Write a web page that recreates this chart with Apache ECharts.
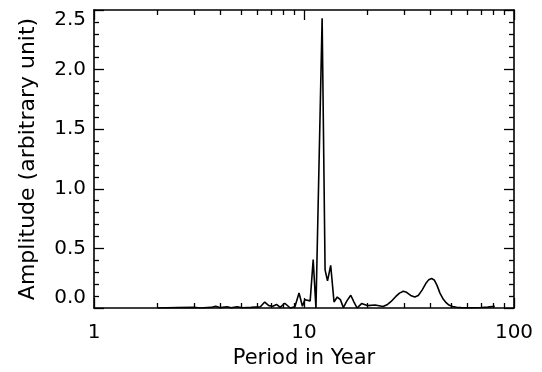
<!DOCTYPE html>
<html>
<head>
<meta charset="utf-8">
<script src="https://cdn.jsdelivr.net/npm/echarts@6/dist/echarts.min.js"></script>
<style>html,body{margin:0;padding:0;background:#fff}#c{width:542px;height:372px}</style>
</head>
<body>
<div id="c"></div>
<script>
const periods = [2.0, 2.5, 3.0, 3.2, 3.6, 3.8, 4.0, 4.3, 4.5, 4.8, 5.1, 5.6, 6.2, 6.5, 6.8, 7.1, 7.4, 7.7, 8.1, 8.6, 9.05, 9.47, 9.83, 10.1, 10.7, 11.06, 11.4, 12.2, 12.6, 12.94, 13.4, 13.9, 14.4, 14.9, 15.4, 16.0, 16.7, 17.3, 17.9, 18.8, 20.0, 21.8, 23.8, 25.0, 26.0, 27.3, 28.5, 29.7, 30.8, 32.2, 33.7, 35.0, 36.5, 38.0, 39.3, 40.5, 41.7, 43.0, 44.4, 46.0, 47.5, 49.0, 51.0, 53.3, 56, 60, 65, 70, 75, 81];
const amplitudes = [0, 0.003, 0.005, 0, 0.005, 0.015, 0.003, 0.01, 0.002, 0.01, 0.002, 0.005, 0.01, 0.05, 0.02, 0.015, 0.03, 0.005, 0.04, 0, 0.01, 0.126, 0.015, 0.07, 0.06, 0.406, 0, 2.43, 0.32, 0.227, 0.358, 0.05, 0.092, 0.07, 0.003, 0.06, 0.107, 0.05, 0, 0.037, 0.02, 0.025, 0.012, 0.03, 0.055, 0.095, 0.125, 0.14, 0.132, 0.105, 0.092, 0.105, 0.15, 0.205, 0.238, 0.247, 0.235, 0.19, 0.125, 0.075, 0.045, 0.025, 0.012, 0.006, 0.003, 0.001, 0.002, 0.004, 0.007, 0.015];
const xMajorTicks = [1, 10, 100];
const xMinorTicks = [2, 3, 4, 5, 6, 7, 8, 9, 20, 30, 40, 50, 60, 70, 80, 90];
const yTickLabels = ['0.0', '0.5', '1.0', '1.5', '2.0', '2.5'];
const xTitle = 'Period in Year';
const yTitle = 'Amplitude (arbitrary unit)';

const FONT = 'DejaVu Sans';
const lineStyle = { color: '#000', width: 1.6 };

function xAxisDef(pos, major, withLabels) {
  return {
    type: 'log', logBase: 10, min: 1, max: 100, position: pos,
    axisLine: { show: major, lineStyle: lineStyle },
    axisTick: { show: true, inside: true, length: major ? 10 : 5, customValues: major ? xMajorTicks : xMinorTicks, lineStyle: { color: '#000', width: 1.3 } },
    axisLabel: withLabels ? { show: true, customValues: xMajorTicks, color: '#000', fontSize: 20, fontFamily: FONT, margin: 15, formatter: v => String(Math.round(v)) } : { show: false },
    splitLine: { show: false },
    name: withLabels ? xTitle : '',
    nameLocation: 'middle', nameGap: 39,
    nameTextStyle: { color: '#000', fontSize: 21, fontFamily: FONT }
  };
}
function yAxisDef(pos, withLabels) {
  return {
    type: 'value', min: 0, max: 2.5, interval: 0.5, position: pos,
    axisLine: { show: true, lineStyle: lineStyle },
    axisTick: { show: true, inside: true, length: 10, lineStyle: { color: '#000', width: 1.3 } },
    minorTick: { show: true, splitNumber: 5, length: 5, lineStyle: { color: '#000', width: 1.3 } },
    axisLabel: withLabels ? { show: true, color: '#000', fontSize: 20, fontFamily: FONT, margin: 8,
      formatter: v => yTickLabels[Math.round(v / 0.5)],
      verticalAlignMinLabel: 'bottom', verticalAlignMaxLabel: 'top' } : { show: false },
    splitLine: { show: false }, minorSplitLine: { show: false },
    name: withLabels ? yTitle : '',
    nameLocation: 'middle', nameGap: 55,
    nameTextStyle: { color: '#000', fontSize: 22, fontFamily: FONT }
  };
}

const chart = echarts.init(document.getElementById('c'), null, { renderer: 'canvas' });
chart.setOption({
  animation: false,
  backgroundColor: '#fff',
  grid: { left: 94, right: 28, top: 10, bottom: 64, containLabel: false, outerBoundsMode: 'none' },
  xAxis: [xAxisDef('bottom', true, true), xAxisDef('bottom', false, false), xAxisDef('top', true, false), xAxisDef('top', false, false)],
  yAxis: [yAxisDef('left', true), yAxisDef('right', false)],
  series: [{
    type: 'line', xAxisIndex: 0, yAxisIndex: 0, showSymbol: false, symbol: 'none',
    lineStyle: { color: '#000', width: 1.6 },
    data: periods.map((p, i) => [p, amplitudes[i]])
  }]
});
</script>
</body>
</html>
